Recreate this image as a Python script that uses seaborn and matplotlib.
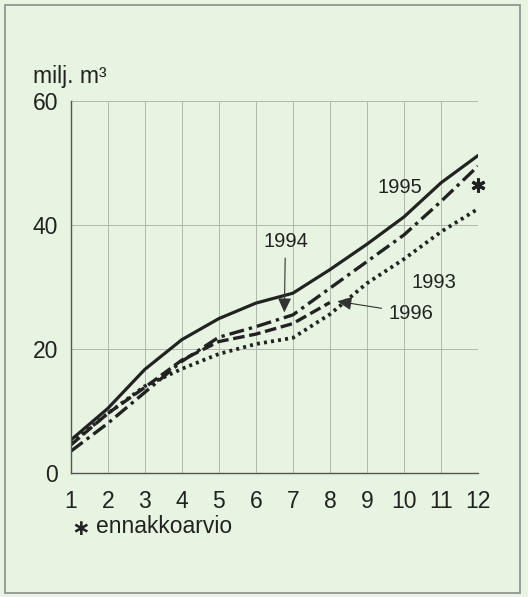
import numpy as np
import pandas as pd
import matplotlib
matplotlib.use("Agg")
import matplotlib.pyplot as plt
from matplotlib.patches import Rectangle
import seaborn as sns

# cumulative volume by month, milj. m3
months = [1, 2, 3, 4, 5, 6, 7, 8, 9, 10, 11, 12]
y1995 = [5.3, 10.4, 16.7, 21.5, 24.9, 27.4, 29.0, 32.8, 36.9, 41.3, 46.8, 51.2]
y1994 = [3.5, 8.0, 13.0, 18.0, 21.9, 23.6, 25.5, 29.8, 34.1, 38.4, 43.8, 49.5]
y1993 = [4.8, 9.6, 14.0, 16.8, 19.2, 20.8, 21.8, 25.6, 30.6, 34.5, 38.9, 42.6]
months_1996 = [1, 2, 3, 4, 5, 6, 7, 8]
y1996 = [4.5, 9.6, 13.8, 18.2, 21.2, 22.4, 24.1, 27.5]
est_month = [12]
est_1996 = [46.5]

sns.set_style("white")
plt.rcParams["font.family"] = ["Liberation Sans", "DejaVu Sans"]

BG = "#e7f4e2"
INK = "#222222"
GRID = "#b0b8ae"

fig = plt.figure(figsize=(5.28, 5.97), dpi=100)
fig.patch.set_facecolor(BG)
ax = fig.add_axes([70.7 / 528, 1 - 473 / 597, (478 - 70.7) / 528, (473 - 101) / 597])
ax.set_facecolor(BG)

sns.lineplot(x=months, y=y1995, ax=ax, color=INK, lw=2.3, linestyle="-")
sns.lineplot(x=months, y=y1994, ax=ax, color=INK, lw=2.4,
             linestyle=(0, (4.5, 1.5, 1, 1.5)))
sns.lineplot(x=months_1996, y=y1996, ax=ax, color=INK, lw=2.4,
             linestyle=(0, (3.5, 1.4)))
sns.lineplot(x=months, y=y1993, ax=ax, color=INK, lw=2.7,
             linestyle=(0, (0.8, 1.1)))
sns.lineplot(x=est_month, y=est_1996, ax=ax, color=INK, lw=0,
             marker=(6, 2, 0), markersize=10, markeredgewidth=2.2,
             markeredgecolor=INK, clip_on=False)

ax.set_xlim(1, 12)
ax.set_ylim(0, 60)
ax.set_xticks(months)
ax.set_yticks([0, 20, 40, 60])
ax.grid(True, color=GRID, lw=0.7)
ax.set_axisbelow(True)
for side in ["top", "right"]:
    ax.spines[side].set_visible(False)
for side in ["left", "bottom"]:
    ax.spines[side].set_color("#555555")
    ax.spines[side].set_linewidth(1.0)
ax.tick_params(axis="y", direction="inout", length=12, width=1, color="#555555",
               labelsize=16.5, labelcolor=INK, pad=3)
ax.tick_params(axis="x", direction="out", length=6.5, width=1, color="#555555",
               labelsize=16.5, labelcolor=INK, pad=6)
ax.set_xlabel("")
ax.set_ylabel("")

ax.text(9.9, 46.1, "1995", fontsize=14.5, color=INK, ha="center", va="center")
ax.text(10.81, 30.8, "1993", fontsize=14.5, color=INK, ha="center", va="center")
arrow = dict(arrowstyle="-|>,head_length=0.6,head_width=0.28", color="#333333",
             lw=0.8, shrinkA=3, shrinkB=0)
ax.annotate("1994", xy=(6.77, 25.9), xytext=(6.8, 37.4), fontsize=14.5, color=INK,
            ha="center", va="center", arrowprops=arrow)
ax.annotate("1996", xy=(8.2, 27.7), xytext=(10.2, 25.8), fontsize=14.5, color=INK,
            ha="center", va="center", arrowprops=arrow)

fig.text(33 / 528, 1 - 83 / 597, "milj. m³", fontsize=16.5, color=INK, va="baseline")
fig.text(81 / 528, 1 - 529 / 597, "∗", fontsize=16, color=INK, ha="center",
         va="center", family=["DejaVu Sans"], fontweight="bold")
fig.text(96 / 528, 1 - 533 / 597, "ennakkoarvio", fontsize=16.5, color=INK, va="baseline")

fig.add_artist(Rectangle((5 / 528, 4 / 597), 515 / 528, 588 / 597,
                         transform=fig.transFigure, fill=False, ec="#8c8c8c", lw=1.2))

fig.savefig("out.png", dpi=100, facecolor=BG)
